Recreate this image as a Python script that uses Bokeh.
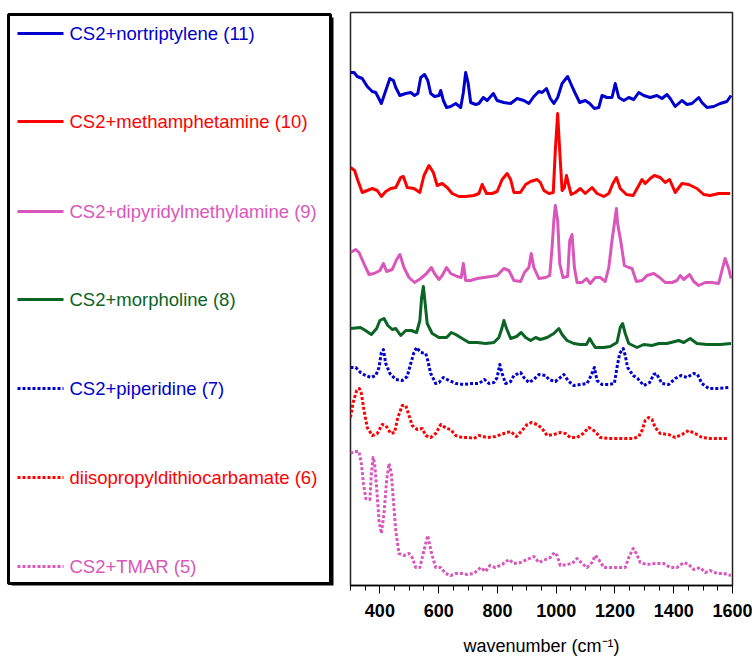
from bokeh.plotting import figure
from bokeh.models import Range1d, FixedTicker
from bokeh.layouts import row
from bokeh.core.properties import value
from bokeh.embed import file_html
from bokeh.resources import INLINE

# ---------------- data (wavenumber, stacked intensity in a.u.) ----------------
nortrip_x = [300,312,323,340,357,374,386,405,420,434,446,454,468,488,505,518,529,539,552,563,
             573,586,601,607,616,627,641,658,675,684,692,700,709,726,737,752,765,786,799,822,
             845,867,890,907,924,941,952,967,980,992,1005,1020,1039,1054,1065,1080,1099,1114,1130,1145,
             1156,1173,1190,1201,1213,1230,1247,1264,1281,1298,1320,1343,1360,1377,1388,1405,1428,1445,1462,1485,
             1496,1513,1536,1558,1581,1595]
nortrip_y = [513,513,509,507,499,494,493,482,495,507,505,498,490,492,493,490,492,508,511,505,
             492,489,490,495,485,478,479,482,478,493,513,503,483,481,482,488,485,492,485,483,
             482,487,485,482,489,494,493,497,487,482,488,502,509,499,492,483,485,482,477,478,
             490,488,488,502,488,485,488,486,493,490,488,490,487,491,487,479,485,481,482,488,
             483,478,479,482,484,490]

meth_x = [300,314,325,340,357,374,391,405,420,437,454,471,480,493,516,536,550,567,582,595,
          612,629,646,669,692,720,737,748,763,782,799,816,833,845,856,878,896,913,935,946,
          958,975,990,997,1005,1012,1020,1028,1035,1043,1051,1065,1082,1099,1122,1139,1162,1179,1193,1205,
          1218,1239,1262,1281,1292,1303,1320,1334,1354,1371,1386,1405,1428,1451,1479,1502,1524,1553,1592]
meth_y = [418,415,405,393,395,397,395,389,394,397,398,408,409,398,397,393,410,420,413,400,
          402,398,392,389,389,390,392,401,392,392,394,406,412,406,393,393,401,404,406,403,
          395,392,393,435,472,435,395,398,410,400,391,393,397,392,398,392,389,392,402,408,
          397,391,390,400,406,402,407,410,408,403,406,393,402,401,397,391,390,392,392]

dipy_x = [300,318,329,344,363,380,400,412,423,442,457,468,482,499,518,539,559,575,586,601,
          612,627,641,663,677,684,692,709,731,754,777,799,822,839,856,879,892,907,915,924,
          941,964,978,986,992,997,1005,1012,1023,1039,1046,1054,1062,1071,1088,1103,1116,1133,1150,1167,
          1179,1190,1198,1205,1209,1221,1232,1247,1258,1273,1292,1309,1332,1352,1371,1394,1411,1422,1434,1454,
          1468,1485,1507,1530,1553,1564,1575,1587,1595]
dipy_y = [333,336,333,323,311,312,315,322,314,316,326,331,318,308,303,307,312,318,312,306,
          310,318,312,309,308,322,305,305,307,308,309,310,317,315,305,304,313,318,332,318,
          307,308,310,338,365,380,365,322,308,309,345,351,318,303,303,307,302,308,308,304,
          318,345,362,377,362,342,320,318,317,304,305,310,312,308,303,303,305,310,306,311,
          304,300,303,303,302,315,327,317,307]

morph_x = [300,334,351,371,389,400,414,427,442,454,471,488,507,525,536,542,548,553,561,578,
           601,627,643,658,680,703,731,760,788,805,816,822,831,845,865,881,896,913,930,946,
           969,992,1009,1020,1037,1060,1082,1103,1114,1122,1133,1162,1184,1207,1218,1226,1235,1247,1275,1298,
           1326,1349,1377,1417,1434,1456,1479,1513,1558,1595]
morph_y = [257,258,255,251,257,265,267,260,256,257,250,255,255,253,265,288,299,285,262,252,
           248,248,253,251,247,243,243,242,243,248,258,265,257,247,249,253,248,245,248,246,
           248,252,257,251,245,242,241,241,247,243,238,238,239,243,258,262,252,242,238,241,
           240,242,242,245,243,247,242,241,241,242]

pip_x = [300,318,334,351,369,386,397,405,412,420,434,454,476,493,505,516,525,539,556,563,
         573,590,601,616,635,658,686,714,737,756,771,788,799,808,816,828,845,856,879,890,
         907,924,941,964,975,997,1014,1026,1043,1060,1082,1105,1119,1130,1139,1156,1179,1198,1207,1216,
         1228,1235,1243,1262,1277,1298,1318,1332,1341,1360,1383,1405,1425,1445,1468,1481,1496,1519,1553,1587]
pip_y = [218,218,213,210,208,210,218,233,236,222,212,206,205,209,222,233,238,233,232,225,
         212,202,203,208,205,202,201,202,202,206,202,203,208,221,212,202,204,210,213,208,
         203,206,211,210,206,204,208,211,204,200,201,202,210,218,205,201,201,202,218,232,
         237,230,218,210,207,200,203,211,212,202,201,207,210,208,212,211,202,197,197,198]

dtc_x = [300,309,321,330,337,346,357,374,391,408,420,437,450,461,476,488,499,510,527,544,
         556,573,590,607,627,641,658,680,703,720,737,765,793,822,845,865,884,901,915,935,
         952,969,992,1014,1031,1048,1071,1092,1111,1133,1150,1179,1207,1235,1264,1281,1292,1303,1315,1326,
         1337,1354,1383,1405,1428,1451,1473,1496,1524,1558,1587]
dtc_y = [168,183,195,197,192,175,158,150,152,161,160,152,153,168,180,180,170,160,156,157,
         150,148,152,161,157,156,150,148,148,147,150,148,149,152,154,149,155,161,163,161,
         157,150,151,153,152,148,148,152,158,154,148,147,147,147,147,149,155,165,168,166,
         158,152,151,148,151,155,152,148,147,147,147]

tmar_x = [300,312,329,337,344,352,366,371,377,382,389,397,405,414,423,431,439,446,454,465,
          482,499,510,522,536,550,563,575,590,607,624,641,658,680,697,720,743,760,774,793,
          816,839,856,879,901,924,941,964,980,994,1003,1014,1037,1054,1071,1088,1105,1122,1133,1145,
          1162,1184,1213,1235,1247,1262,1273,1286,1309,1337,1366,1388,1411,1434,1451,1468,1490,1507,1524,1547,
          1570,1595]
tmar_y = [132,134,134,122,102,87,86,112,128,122,98,65,52,72,105,122,112,85,55,32,
          30,32,28,18,18,35,50,33,18,18,12,10,12,12,11,12,18,14,20,18,
          21,26,22,23,26,29,23,26,28,33,30,20,21,22,27,22,18,23,30,26,
          18,18,18,18,28,37,32,23,21,22,22,18,18,23,21,16,18,13,15,12,
          12,10]

labels = ["CS2+nortriptylene (11)", "CS2+methamphetamine (10)", "CS2+dipyridylmethylamine (9)",
          "CS2+morpholine (8)", "CS2+piperidine (7)", "diisopropyldithiocarbamate (6)", "CS2+TMAR (5)"]
xs = [nortrip_x, meth_x, dipy_x, morph_x, pip_x, dtc_x, tmar_x]
ys = [nortrip_y, meth_y, dipy_y, morph_y, pip_y, dtc_y, tmar_y]

# ---------------- styles ----------------
BLUE, RED, PINK, GREEN = "#0000CC", "#FF0000", "#D957BA", "#0B6424"
colors = [BLUE, RED, PINK, GREEN, BLUE, RED, PINK]
dashes = ["solid", "solid", "solid", "solid", "3 2", "3 2", "3 2"]
FONT = "Liberation Sans"
TOP, BOTTOM = 12, 73  # shared frame borders (px)

# ---------------- main plot ----------------
p = figure(width=407, height=658, x_range=Range1d(300, 1600), y_range=Range1d(0, 573),
           output_backend="svg", toolbar_location=None, y_axis_location=None,
           min_border_left=5, min_border_right=20, min_border_top=TOP, min_border_bottom=BOTTOM)
p.grid.visible = False
p.outline_line_color = "#222222"
p.outline_line_width = 1.5

for x, y, c, d in zip(xs, ys, colors, dashes):
    p.line(x, y, line_color=c, line_width=3, line_dash=d, line_join="round")

p.xaxis.ticker = FixedTicker(ticks=list(range(400, 1601, 200)), minor_ticks=list(range(300, 1601, 50)))
p.xaxis.major_tick_out = 8
p.xaxis.major_tick_in = 0
p.xaxis.minor_tick_out = 5
p.xaxis.minor_tick_in = 0
p.xaxis.major_tick_line_color = "black"
p.xaxis.minor_tick_line_color = "black"
p.xaxis.axis_line_color = "black"
p.xaxis.axis_line_width = 1.5
p.xaxis.major_label_text_font = FONT
p.xaxis.major_label_text_font_style = "bold"
p.xaxis.major_label_text_font_size = "18px"
p.xaxis.major_label_text_line_height = 1.0
p.xaxis.major_label_text_color = "black"
p.xaxis.major_label_standoff = 10
p.xaxis.axis_label = "wavenumber (cm\u207b\u00b9)"
p.xaxis.axis_label_text_font = FONT
p.xaxis.axis_label_text_font_style = "normal"
p.xaxis.axis_label_text_font_size = "18px"
p.xaxis.axis_label_text_line_height = 1.0
p.xaxis.axis_label_text_color = "black"
p.xaxis.axis_label_standoff = 16

# ---------------- legend panel (pixel coordinates, frame aligned with main plot) ----------------
leg = figure(width=345, height=658, x_range=Range1d(0, 345), y_range=Range1d(658 - BOTTOM, TOP),
             output_backend="svg", toolbar_location=None, x_axis_location=None, y_axis_location=None,
             min_border_left=0, min_border_right=0, min_border_top=TOP, min_border_bottom=BOTTOM)
leg.grid.visible = False
leg.outline_line_color = None
leg.quad(left=[11], right=[333], top=[17], bottom=[586], fill_color="black", line_color=None)
leg.quad(left=[8], right=[330], top=[14], bottom=[583], fill_color="white", line_color="black", line_width=3)

item_y = [33, 121, 211, 299, 388, 477, 566]
for yy, c, d in zip(item_y, colors, dashes):
    leg.line([17, 63], [yy, yy], line_color=c, line_width=3, line_dash=d)
leg.text(x=[69] * len(labels), y=item_y, text=labels, text_color=colors,
         text_font=value(FONT), text_font_size="18.5px", text_baseline="middle", text_align="left")

layout = row(leg, p)
open("out.html", "w").write(file_html(layout, INLINE))
